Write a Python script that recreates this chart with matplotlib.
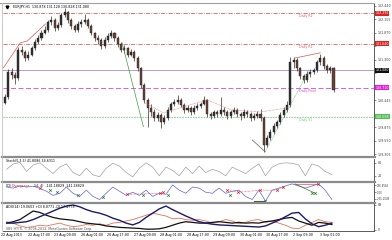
import matplotlib
matplotlib.use("Agg")
import matplotlib.pyplot as plt
import matplotlib.transforms as mtransforms
from matplotlib.lines import Line2D
import numpy as np

# ---- EURJPY H1 candles ----
first_open = 130.40
closes = [130.52, 131.05, 130.98, 130.92, 131.51, 131.47, 131.34, 131.41, 131.55, 131.68,
          131.76, 131.87, 131.93, 132.10, 132.14, 131.98, 132.04, 132.25, 132.31, 132.14,
          132.02, 131.93, 132.06, 132.10, 132.14, 132.02, 131.87, 131.76, 131.72, 131.60,
          131.72, 131.81, 131.87, 131.76, 131.64, 131.51, 131.55, 131.41, 131.47, 131.34,
          131.13, 130.77, 130.46, 130.29, 130.20, 130.08, 130.14, 129.99, 130.08, 130.25,
          130.37, 130.41, 130.46, 130.35, 130.25, 130.29, 130.20, 130.29, 130.33, 130.37,
          130.46, 130.16, 130.12, 130.20, 130.16, 130.25, 130.20, 130.12, 130.20, 130.25,
          130.16, 130.12, 130.20, 130.16, 130.08, 130.12, 130.16, 130.08, 129.51, 129.65,
          129.78, 129.91, 129.99, 130.14, 130.25, 130.35, 131.26, 131.30, 131.13, 130.96,
          130.88, 131.00, 131.05, 131.09, 131.26, 131.34, 131.17, 131.09, 131.13, 130.67]
highs = [130.58, 131.10, 131.12, 131.04, 131.58, 131.60, 131.52, 131.48, 131.60, 131.74,
         131.82, 131.93, 132.02, 132.15, 132.22, 132.18, 132.10, 132.30, 132.40, 132.34,
         132.18, 132.06, 132.12, 132.16, 132.27, 132.18, 132.05, 131.90, 131.82, 131.76,
         131.78, 131.86, 131.93, 131.90, 131.80, 131.68, 131.62, 131.58, 131.54, 131.50,
         131.38, 131.16, 130.82, 130.50, 130.36, 130.26, 130.20, 130.18, 130.14, 130.30,
         130.42, 130.48, 130.56, 130.50, 130.38, 130.34, 130.32, 130.34, 130.38, 130.42,
         130.54, 130.48, 130.20, 130.24, 130.24, 130.52, 130.30, 130.24, 130.24, 130.30,
         130.28, 130.20, 130.26, 130.24, 130.20, 130.18, 130.22, 130.26, 130.12, 129.72,
         129.84, 129.96, 130.04, 130.20, 130.30, 130.44, 131.37, 131.36, 131.34, 131.16,
         131.00, 131.06, 131.10, 131.14, 131.30, 131.43, 131.38, 131.22, 131.18, 131.16]
lows = [130.36, 130.48, 130.90, 130.80, 130.88, 131.40, 131.28, 131.30, 131.38, 131.52,
        131.64, 131.72, 131.84, 131.90, 132.04, 131.92, 131.94, 132.00, 132.20, 132.08,
        131.96, 131.88, 131.90, 132.00, 132.05, 131.98, 131.82, 131.70, 131.64, 131.53,
        131.56, 131.68, 131.76, 131.70, 131.58, 131.46, 131.45, 131.36, 131.38, 131.28,
        131.06, 130.70, 130.38, 129.88, 130.12, 130.02, 130.00, 129.87, 129.94, 130.04,
        130.20, 130.32, 130.36, 130.30, 130.18, 130.20, 130.14, 130.16, 130.24, 130.28,
        130.34, 130.10, 130.06, 130.08, 130.10, 130.12, 130.14, 130.06, 130.08, 130.16,
        130.10, 130.04, 130.08, 130.10, 130.02, 130.04, 130.08, 130.02, 129.36, 129.46,
        129.60, 129.74, 129.86, 129.94, 130.10, 130.20, 130.30, 131.12, 131.06, 130.90,
        130.82, 130.84, 130.94, 131.00, 131.04, 131.20, 131.10, 131.02, 131.02, 130.62]

title_text = "EURJPY,H1  130.878 131.128 130.828 131.080"

# price scale labels on the right
price_ticks = [132.440, 132.155, 131.870, 131.585, 131.300, 131.015,
               130.730, 130.445, 130.160, 129.875, 129.590, 129.305]

# daily pivot levels
level_names = ["Daily R2", "Daily R1", "Daily Pivot", "Daily S1"]
level_values = [132.291, 131.640, 130.710, 130.098]
bid_price = 131.080

# zigzag legs (bar index, price)
zz_red_x = [-0.5, 4.6, 6.7, 12.2]
zz_red_y = [131.13, 131.66, 131.70, 132.06]
zz_green_x = [35.3, 41.7]
zz_green_y = [131.66, 129.89]
zz_gray_x = [74.5, 78.4]
zz_gray_y = [129.61, 129.36]
zz_top_x = [87.4, 95.0]
zz_top_y = [131.34, 131.45]
dot_red_x = [42.3, 47.7, 60.9, 67.9, 76.9, 85.3]
dot_red_y = [130.39, 130.18, 130.46, 130.25, 130.20, 130.29]
dot_green_x = [78.4, 91.4]
dot_green_y = [129.36, 131.05]

# ---- indicators, one value every two bars ----
stoch = [50, 75, 82, 40, 70, 80, 55, 30, 60, 75, 35, 20, 55, 25, 15, 55, 78, 65, 35, 15,
         55, 80, 60, 20, 60, 45, 20, 60, 30, 65, 35, 50, 40, 20, 60, 45, 30, 55, 75, 20,
         60, 75, 80, 78, 70, 20, 75, 65, 40, 25]
cci = [200, 160, 240, 200, 230, 150, 40, -120, -40, 200, -40, -160, 80, -160, -280, -40,
       200, 40, -120, 0, -120, 80, -160, -40, -80, 280, 80, -40, 200, 160, 0, -40, 160,
       -40, 40, 80, -160, -280, 80, -340, 80, 160, 240, 320, 240, 160, 240, 320, 80, -280]
adx_main = [18, 18, 20, 22, 28, 36, 44, 52, 60, 66, 69, 64, 56, 50, 46, 40, 32, 26, 18, 13,
            20, 34, 46, 58, 66, 56, 47, 38, 30, 22, 18, 15, 13, 12, 11, 10, 9, 8, 7, 10,
            18, 26, 36, 46, 48, 30, 16, 8, 12, 18]
adx_minus = [18, 22, 28, 40, 52, 48, 40, 34, 30, 28, 26, 22, 18, 16, 14, 10, 8, 6, 5, 4,
             3, 1, 1, 2, 6, 12, 18, 22, 20, 18, 18, 20, 22, 20, 18, 20, 18, 19, 18, 22,
             24, 28, 32, 34, 24, 18, 12, 20, 18, 14]
adx_plus = [22, 18, 10, 6, 8, 12, 10, 14, 18, 12, 8, 10, 14, 12, 16, 12, 18, 20, 24, 28,
            34, 40, 46, 42, 38, 30, 32, 28, 26, 28, 24, 18, 22, 28, 24, 16, 20, 26, 28, 20,
            24, 18, 12, 4, 2, 12, 20, 28, 22, 20]

# CCI divergence marks (bar index, value)
cci_red_x = [10.6, 36.8, 46.8, 47.7, 67.0, 70.3, 76.9, 82.0, 83.8, 94.4]
cci_red_y = [160, -80, -40, 0, 80, 0, 80, 80, 200, 320]
cci_green_x = [13.7, 15.8, 22.1, 29.6, 41.7, 49.2, 67.9, 78.4, 92.6, 93.5]
cci_green_y = [80, 0, -120, -200, -120, -120, -120, -320, -40, -40]

date_labels = ["22 Aug 2013", "22 Aug 17:00", "23 Aug 09:00", "26 Aug 01:00",
               "26 Aug 17:00", "27 Aug 09:00", "28 Aug 01:00", "28 Aug 17:00",
               "29 Aug 09:00", "30 Aug 01:00", "30 Aug 17:00", "2 Sep 09:00",
               "3 Sep 01:00"]

# ---- figure layout (pixel based, 392x240) ----
W, H = 392, 240
fig = plt.figure(figsize=(W / 100, H / 100), dpi=100)
fig.patch.set_facecolor("white")


def box(y_top, y_bot):
    return [3 / W, 1 - y_bot / H, 371 / W, (y_bot - y_top) / H]


ax = fig.add_axes(box(3, 156))
ax_st = fig.add_axes(box(158.5, 180.5))
ax_cci = fig.add_axes(box(183, 201.5))
ax_adx = fig.add_axes(box(204, 231))

xmin, xmax = -0.6, 111.2
fs = 2.3
for a in (ax, ax_st, ax_cci, ax_adx):
    a.set_xlim(xmin, xmax)
    a.set_xticks([])
    for s in ("left", "top", "bottom"):
        a.spines[s].set_visible(False)
    a.spines["right"].set_color("#404040")
    a.spines["right"].set_linewidth(0.6)
    a.yaxis.tick_right()
    a.tick_params(axis="y", length=1.5, width=0.4, pad=1.0, labelsize=fs, colors="#404040")
    a.set_facecolor("white")

# ---- main price chart ----
n = len(closes)
idx = np.arange(n)
opens = np.array([first_open] + closes[:-1])
c = np.array(closes)
up = c >= opens
ax.vlines(idx, lows, highs, color="#303030", lw=0.5, zorder=3)
body = np.where(np.abs(c - opens) < 0.012, 0.012, c - opens)
ax.bar(idx, body, bottom=opens, width=0.62,
       color=np.where(up, "#2f2f2f", "#6a3e30"), edgecolor="#262626", lw=0.3, zorder=4)

ax.set_ylim(129.27, 132.503)
tag_vals = level_values + [bid_price]
# the coloured price tags hide the scale labels right under them
shown = [p for p in price_ticks if min(abs(p - t) for t in tag_vals) > 0.09]
ax.set_yticks(price_ticks)
ax.set_yticklabels(["%.3f" % p if p in shown else "" for p in price_ticks])

lvl_colors = ["#e06060", "#e06060", "#e040e0", "#78c878"]
lvl_styles = [(0, (5, 1.5, 1, 1.5)), (0, (5, 1.5, 1, 1.5)), (0, (6, 3)), (0, (2, 1.2))]
for name, val, col, ls in zip(level_names, level_values, lvl_colors, lvl_styles):
    ax.axhline(val, color=col, lw=0.6, ls=ls, zorder=2)
    ax.text(88.7, val - 0.03, name, color=col, fontsize=fs, va="top", ha="left", zorder=5)
ax.axhline(bid_price, color="#b89ad0", lw=0.7, zorder=2)

# price tags on the right scale
tr = mtransforms.blended_transform_factory(ax.transAxes, ax.transData)
tag_cols = ["#e02020", "#e02020", "#e020e0", "#50c050", "#101010"]
for val, col in zip(tag_vals, tag_cols):
    ax.text(1.004, val, "%.3f" % val, transform=tr, color="white", fontsize=fs,
            va="center", ha="left", clip_on=False, zorder=10,
            bbox=dict(boxstyle="square,pad=0.15", fc=col, ec="none"))

ax.plot(zz_red_x, zz_red_y, color="#e05050", lw=0.5, zorder=5)
ax.plot(zz_green_x, zz_green_y, color="#40a040", lw=0.5, zorder=5)
ax.plot(zz_gray_x, zz_gray_y, color="#606060", lw=0.5, zorder=5)
ax.plot(zz_top_x, zz_top_y, color="#e05050", lw=0.5, zorder=5)
ax.plot(dot_red_x, dot_red_y, color="#e07070", lw=0.5, ls=(0, (1, 1)), zorder=5)
ax.plot(dot_green_x, dot_green_y, color="#60b060", lw=0.5, ls=(0, (1, 1)), zorder=5)

ax.plot([0.012], [0.975], marker="v", color="black", ms=2, transform=ax.transAxes)
ax.text(0.026, 0.975, title_text, transform=ax.transAxes, fontsize=fs, va="center", ha="left")

# ---- stochastic ----
ind_x = np.arange(len(stoch)) * 2 + 0.5
ax_st.plot(ind_x, stoch, color="#a0a0a0", lw=0.5)
ax_st.set_ylim(-2, 100)
ax_st.set_yticks([80, 20])
ax_st.set_yticklabels(["80", "20"])
ax_st.text(0.008, 0.88, "Stoch(5,3,3) 41.8086 34.6311", transform=ax_st.transAxes,
           fontsize=fs, va="center", ha="left")

# ---- CCI ----
ax_cci.plot(ind_x, cci, color="#6060e0", lw=0.5)
ax_cci.plot(cci_red_x[4:9], cci_red_y[4:9], color="#e05050", lw=0.5, ls=(0, (1, 1)))
ax_cci.plot(cci_red_x[1:4], cci_red_y[1:4], color="#e05050", lw=0.5, ls=(0, (1, 1)))
ax_cci.plot([87.4, 94.4], [320, 320], color="#e05050", lw=0.5)
ax_cci.plot([87.4, 93.5], [320, -40], color="#408040", lw=0.5)
ax_cci.plot([75.0, 78.4], [-330, -330], color="#406040", lw=0.8)
ax_cci.plot(cci_red_x, cci_red_y, ls="none", marker="x", color="#e02020", ms=1.8, mew=0.5)
ax_cci.plot(cci_green_x, cci_green_y, ls="none", marker="x", color="#208020", ms=1.8, mew=0.5)
ax_cci.set_ylim(-355, 355)
ax_cci.set_yticks([276.8566, 0, -255.2049])
ax_cci.set_yticklabels(["276.8566", "0.00", "-255.2049"])
ax_cci.tick_params(axis="y", labelsize=1.9, pad=0.6)
ax_cci.text(0.008, 0.86, "CCI(", transform=ax_cci.transAxes, fontsize=fs, va="center", ha="left")
ax_cci.text(0.024, 0.86, "Divergence", transform=ax_cci.transAxes, fontsize=fs, va="center",
            ha="left", color="#e02020")
ax_cci.text(0.083, 0.86, "14, 4)  -141.18829 -141.18829", transform=ax_cci.transAxes,
            fontsize=fs, va="center", ha="left")

# ---- ADX ----
ax_adx.plot(ind_x, adx_plus, color="#e87050", lw=0.6)
ax_adx.plot(ind_x, adx_minus, color="#101010", lw=0.9)
ax_adx.plot(ind_x, adx_main, color="#1a1a70", lw=1.0)
ax_adx.set_ylim(-4.2, 71.8)
ax_adx.set_yticks([69, 0])
ax_adx.set_yticklabels(["69", "0"])
ax_adx.spines["bottom"].set_visible(True)
ax_adx.spines["bottom"].set_color("#404040")
ax_adx.spines["bottom"].set_linewidth(0.6)
ax_adx.text(0.008, 0.9, "ADX(14) 19.0603 +DI 8.8771 -DI 17.4778", transform=ax_adx.transAxes,
            fontsize=fs, va="center", ha="left")
ax_adx.text(0.008, 0.09, "SB5 HT/TL \u00a9 2006-2013, MetaQuotes Software Corp.",
            transform=ax_adx.transAxes, fontsize=fs, va="center", ha="left", color="#505050")

# date labels under the last panel
dtr = mtransforms.blended_transform_factory(ax_adx.transData, ax_adx.transAxes)
for k, lab in enumerate(date_labels):
    ax_adx.text(8 * k - 1.2, -0.14, lab, transform=dtr, fontsize=fs, va="center",
                ha="left", clip_on=False)

# panel separators and frame
for yy in (157, 181.7, 202.7):
    fig.add_artist(Line2D([2 / W, 375 / W], [1 - yy / H, 1 - yy / H],
                          transform=fig.transFigure, color="#8c8c8c", lw=1.6))
fig.add_artist(Line2D([0, 374 / W], [1 - 2.5 / H, 1 - 2.5 / H],
                      transform=fig.transFigure, color="#a0a0a0", lw=0.8))
fig.add_artist(Line2D([2 / W, 2 / W], [1 - 231 / H, 1 - 2.5 / H],
                      transform=fig.transFigure, color="#c0c0c0", lw=0.6))

fig.savefig("out.png", dpi=100)
